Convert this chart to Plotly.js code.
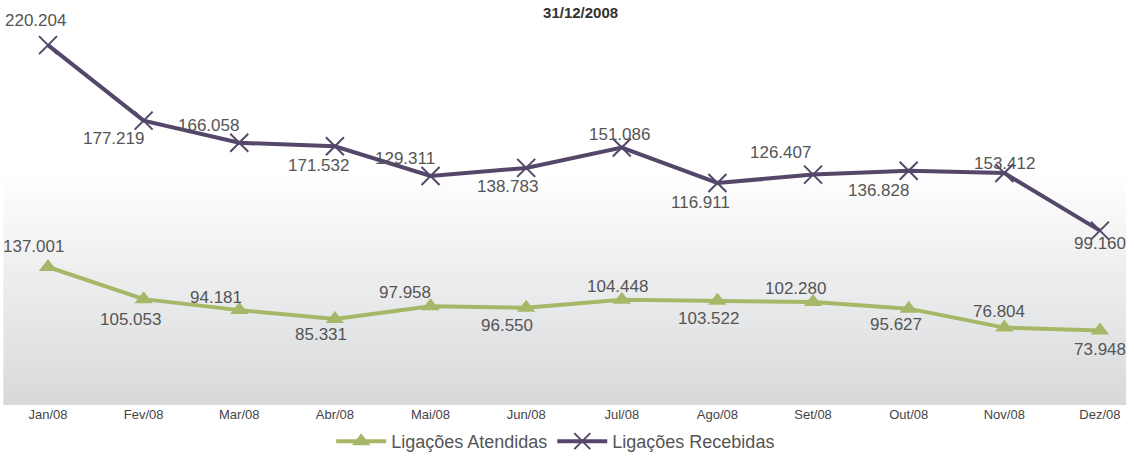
<!DOCTYPE html>
<html>
<head>
<meta charset="utf-8">
<script src="https://cdn.plot.ly/plotly-3.0.1.min.js"></script>
<style>
html,body{margin:0;padding:0;background:#fff;}
#chart{width:1134px;height:464px;}
</style>
</head>
<body>
<div id="chart"></div>
<script>
// ---- data ----
const months = ["Jan/08","Fev/08","Mar/08","Abr/08","Mai/08","Jun/08","Jul/08","Ago/08","Set/08","Out/08","Nov/08","Dez/08"];
const atendidas = [137.001,105.053,94.181,85.331,97.958,96.550,104.448,103.522,102.280,95.627,76.804,73.948];
const recebidas = [220.204,177.219,166.058,171.532,129.311,138.783,151.086,116.911,126.407,136.828,153.412,99.160];
const atendidasLabels = ["137.001","105.053","94.181","85.331","97.958","96.550","104.448","103.522","102.280","95.627","76.804","73.948"];
const recebidasLabels = ["220.204","177.219","166.058","171.532","129.311","138.783","151.086","116.911","126.407","136.828","153.412","99.160"];

// label offsets (px) relative to markers — styling only
const offA = [[-15,20],[-13,-20],[-23,13],[-14,-15],[-26,14],[-19,-18],[-4,13],[-9,-18],[-18,13],[-13,-16],[-5,16],[0,-19]];
const offR = [[-13,25],[-30,-18],[-31,17],[-16,-19],[-26,18],[-19,-19],[-2,13],[-17,-20],[-33,22],[-30,-20],[0,10],[0,-13]];

const green = "#a7b768";
const purple = "#54476a";

const traces = [
  {
    x: months, y: atendidas, name: "Ligações Atendidas", type: "scatter", mode: "lines+markers",
    stackgroup: "one", fill: "none",
    line: {color: green, width: 4},
    marker: {symbol: "triangle-up", size: 16, color: green, line: {width: 0}}
  },
  {
    x: months, y: recebidas, name: "Ligações Recebidas", type: "scatter", mode: "lines+markers",
    stackgroup: "one", fill: "none",
    line: {color: purple, width: 4},
    marker: {symbol: "x-thin", size: 18, color: purple, line: {width: 2, color: purple}}
  }
];

const annFont = {family: "Liberation Sans, Arial, sans-serif", size: 17, color: "#555"};
const annotations = [];
months.forEach((m, i) => {
  annotations.push({x: m, y: atendidas[i], xref: "x", yref: "y", text: atendidasLabels[i], showarrow: false,
    xshift: offA[i][0], yshift: offA[i][1], font: annFont});
  annotations.push({x: m, y: atendidas[i] + recebidas[i], xref: "x", yref: "y", text: recebidasLabels[i], showarrow: false,
    xshift: offR[i][0], yshift: offR[i][1], font: annFont});
});

// background gradient (white at top to light gray at bottom)
const shapes = [];
const steps = 40;
const gStart = 0.58; // paper y where gradient starts
for (let k = 0; k < steps; k++) {
  const y1 = gStart - k * gStart / steps;
  const y0 = gStart - (k + 1) * gStart / steps;
  const t = (k + 0.5) / steps;
  const r = Math.round(255 - t * 40), g = Math.round(255 - t * 38), b = Math.round(255 - t * 36);
  shapes.push({type: "rect", xref: "paper", yref: "paper", x0: 0.003, x1: 0.993, y0: y0, y1: y1 + 0.002,
    fillcolor: `rgb(${r},${g},${b})`, line: {width: 0}, layer: "below"});
}

const layout = {
  width: 1134, height: 464,
  margin: {l: 0, r: 0, t: 0, b: 59},
  paper_bgcolor: "#fff", plot_bgcolor: "#fff",
  showlegend: true,
  title: {text: "<b>31/12/2008</b>", x: 0.512, xanchor: "center", y: 0.972, yanchor: "middle",
    font: {family: "Liberation Sans, Arial, sans-serif", size: 15, color: "#333"}},
  xaxis: {type: "category", range: [-0.502, 11.356], showgrid: false, zeroline: false, showline: false,
    ticks: "", tickfont: {family: "Liberation Sans, Arial, sans-serif", size: 13, color: "#444"}, fixedrange: true},
  yaxis: {range: [0, 402], visible: false, showgrid: false, zeroline: false, fixedrange: true},
  legend: {orientation: "h", x: 0.49, xanchor: "center", y: -0.09, yanchor: "middle", itemwidth: 50,
    font: {family: "Liberation Sans, Arial, sans-serif", size: 18, color: "#555"}, bgcolor: "rgba(0,0,0,0)"},
  shapes: shapes,
  annotations: annotations
};

Plotly.newPlot("chart", traces, layout, {displayModeBar: false, staticPlot: true});
</script>
</body>
</html>
